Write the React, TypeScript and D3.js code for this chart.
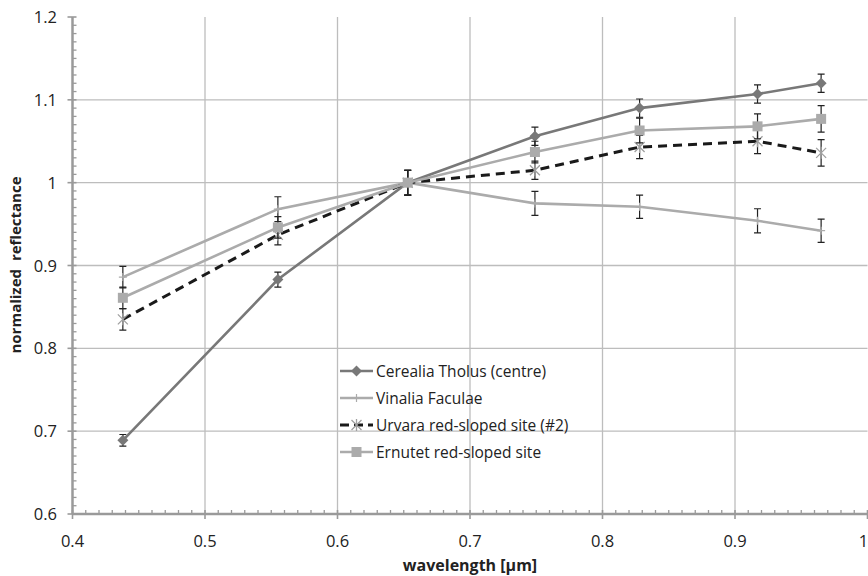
import React, { useEffect, useRef } from "react";
import * as d3 from "d3";

// wavelengths of the filters (µm)
const wavelengths = [0.438, 0.555, 0.653, 0.749, 0.828, 0.917, 0.965];

const cerealia = [0.689, 0.883, 1.0, 1.056, 1.09, 1.107, 1.12];
const cerealiaErr = [0.007, 0.009, 0.015, 0.011, 0.011, 0.011, 0.011];

const vinalia = [0.886, 0.968, 1.0, 0.975, 0.971, 0.954, 0.942];
const vinaliaErr = [0.013, 0.015, 0.015, 0.0145, 0.014, 0.0145, 0.014];

const urvara = [0.835, 0.937, 1.0, 1.015, 1.043, 1.05, 1.036];
const urvaraErr = [0.013, 0.012, 0.015, 0.011, 0.014, 0.015, 0.016];

const ernutet = [0.861, 0.946, 1.0, 1.037, 1.063, 1.068, 1.077];
const ernutetErr = [0.013, 0.013, 0.015, 0.013, 0.015, 0.015, 0.016];

const xTicks = [0.4, 0.5, 0.6, 0.7, 0.8, 0.9, 1.0];
const yTicks = [0.6, 0.7, 0.8, 0.9, 1.0, 1.1, 1.2];

const seriesNames = [
  "Cerealia Tholus (centre)",
  "Vinalia Faculae",
  "Urvara red-sloped site (#2)",
  "Ernutet red-sloped site",
];

export default function App() {
  const svgRef = useRef<SVGSVGElement | null>(null);

  useEffect(() => {
    document.body.style.margin = "0";
    const svg = d3.select(svgRef.current);
    svg.selectAll("*").remove();

    const width = 868;
    const height = 576;
    const font = "'Open Sans', 'Noto Sans', sans-serif";

    const x = d3.scaleLinear().domain([0.4, 1.0]).range([72.5, 867.5]);
    const y = d3.scaleLinear().domain([0.6, 1.2]).range([514, 17]);

    svg.attr("width", width).attr("height", height);

    //grid lines
    const grid = svg.append("g");
    grid.selectAll("line.v")
      .data(xTicks.slice(1, -1))
      .join("line")
      .attr("x1", (d) => x(d)).attr("x2", (d) => x(d))
      .attr("y1", y(0.6)).attr("y2", y(1.2))
      .attr("stroke", "#bdbdbd").attr("stroke-width", 1.3);
    grid.selectAll("line.h")
      .data(yTicks.slice(1, -1))
      .join("line")
      .attr("x1", x(0.4)).attr("x2", x(1.0))
      .attr("y1", (d) => y(d)).attr("y2", (d) => y(d))
      .attr("stroke", "#bdbdbd").attr("stroke-width", 1.3);

    //minor ticks
    const axisColor = "#9a9a9a";
    const minorX = d3.range(41, 100).map((d) => d / 100).filter((d) => Math.round(d * 100) % 10 !== 0);
    const minorY = d3.range(61, 120).map((d) => d / 100).filter((d) => Math.round(d * 100) % 10 !== 0);
    svg.append("g").selectAll("line")
      .data(minorX)
      .join("line")
      .attr("x1", (d) => x(d)).attr("x2", (d) => x(d))
      .attr("y1", y(0.6)).attr("y2", y(0.6) - 4)
      .attr("stroke", axisColor).attr("stroke-width", 1.3);
    svg.append("g").selectAll("line")
      .data(minorY)
      .join("line")
      .attr("x1", x(0.4)).attr("x2", x(0.4) + 4)
      .attr("y1", (d) => y(d)).attr("y2", (d) => y(d))
      .attr("stroke", axisColor).attr("stroke-width", 1.3);

    //major ticks
    svg.append("g").selectAll("line")
      .data(xTicks)
      .join("line")
      .attr("x1", (d) => x(d)).attr("x2", (d) => x(d))
      .attr("y1", y(0.6) - 4).attr("y2", y(0.6) + 5)
      .attr("stroke", axisColor).attr("stroke-width", 1.6);
    svg.append("g").selectAll("line")
      .data(yTicks)
      .join("line")
      .attr("x1", x(0.4) - 5).attr("x2", x(0.4) + 4)
      .attr("y1", (d) => y(d)).attr("y2", (d) => y(d))
      .attr("stroke", axisColor).attr("stroke-width", 1.6);

    //axis lines
    svg.append("line")
      .attr("x1", x(0.4)).attr("x2", x(1.0))
      .attr("y1", y(0.6)).attr("y2", y(0.6))
      .attr("stroke", axisColor).attr("stroke-width", 2.5);
    svg.append("line")
      .attr("x1", x(0.4)).attr("x2", x(0.4))
      .attr("y1", y(0.6)).attr("y2", y(1.2))
      .attr("stroke", axisColor).attr("stroke-width", 2.5);

    //tick labels
    svg.append("g").selectAll("text")
      .data(xTicks)
      .join("text")
      .attr("x", (d) => (d === 1 ? x(d) - 4 : x(d))).attr("y", 547)
      .attr("text-anchor", "middle")
      .attr("font-family", font).attr("font-size", 16.5).attr("fill", "#222")
      .text((d) => (d === 1 ? "1" : d.toFixed(1)));
    svg.append("g").selectAll("text")
      .data(yTicks)
      .join("text")
      .attr("x", 57).attr("y", (d) => y(d) + 6)
      .attr("text-anchor", "end")
      .attr("font-family", font).attr("font-size", 16.5).attr("fill", "#222")
      .text((d) => (d === 1 ? "1" : d.toFixed(1)));

    //axis titles
    svg.append("text")
      .attr("x", 470).attr("y", 571)
      .attr("text-anchor", "middle")
      .attr("font-family", font).attr("font-size", 16).attr("font-weight", "bold").attr("fill", "#222")
      .text("wavelength [µm]");
    svg.append("text")
      .attr("transform", `translate(21,${265}) rotate(-90)`)
      .attr("text-anchor", "middle")
      .attr("font-family", font).attr("font-size", 15).attr("font-weight", "bold").attr("fill", "#222")
      .attr("word-spacing", 4)
      .text("normalized reflectance");

    const series = [
      { values: cerealia, err: cerealiaErr, color: "#787878", dash: null, marker: "diamond", markerColor: "#787878" },
      { values: vinalia, err: vinaliaErr, color: "#ababab", dash: null, marker: "plus", markerColor: "#ababab" },
      { values: urvara, err: urvaraErr, color: "#1a1a1a", dash: "9,6", marker: "star", markerColor: "#a0a0a0" },
      { values: ernutet, err: ernutetErr, color: "#ababab", dash: null, marker: "square", markerColor: "#ababab" },
    ];

    const line = d3.line<number>()
      .x((_, i) => x(wavelengths[i]))
      .y((d) => y(d));

    //draws one marker at (cx, cy)
    const drawMarker = (g: any, kind: string, cx: number, cy: number, color: string) => {
      if (kind === "diamond") {
        g.append("path")
          .attr("d", `M${cx},${cy - 5.5}L${cx + 5.5},${cy}L${cx},${cy + 5.5}L${cx - 5.5},${cy}Z`)
          .attr("fill", color);
      } else if (kind === "square") {
        g.append("rect")
          .attr("x", cx - 5).attr("y", cy - 5).attr("width", 10).attr("height", 10)
          .attr("fill", color);
      } else if (kind === "plus") {
        g.append("path")
          .attr("d", `M${cx - 4},${cy}H${cx + 4}M${cx},${cy - 4}V${cy + 4}`)
          .attr("stroke", color).attr("stroke-width", 1.2);
      } else if (kind === "star") {
        g.append("path")
          .attr("d", `M${cx - 5},${cy - 5}L${cx + 5},${cy + 5}M${cx - 5},${cy + 5}L${cx + 5},${cy - 5}M${cx},${cy - 6}V${cy + 6}`)
          .attr("stroke", color).attr("stroke-width", 1.3).attr("fill", "none");
      }
    };

    series.forEach((s) => {
      const g = svg.append("g");
      //error bars
      s.values.forEach((v, i) => {
        const cx = x(wavelengths[i]);
        const y1 = y(v - s.err[i]);
        const y2 = y(v + s.err[i]);
        g.append("path")
          .attr("d", `M${cx},${y1}V${y2}M${cx - 3.5},${y1}H${cx + 3.5}M${cx - 3.5},${y2}H${cx + 3.5}`)
          .attr("stroke", "#222").attr("stroke-width", 1.2).attr("fill", "none");
      });
      g.append("path")
        .datum(s.values)
        .attr("d", line)
        .attr("fill", "none")
        .attr("stroke", s.color)
        .attr("stroke-width", s.dash ? 3 : 2.6)
        .attr("stroke-dasharray", s.dash);
      s.values.forEach((v, i) => drawMarker(g, s.marker, x(wavelengths[i]), y(v), s.markerColor));
    });

    //legend
    const legend = svg.append("g");
    series.forEach((s, i) => {
      const ly = 371 + i * 27;
      legend.append("line")
        .attr("x1", 340).attr("x2", 373)
        .attr("y1", ly).attr("y2", ly)
        .attr("stroke", s.color)
        .attr("stroke-width", s.dash ? 3 : 2.6)
        .attr("stroke-dasharray", s.dash ? "9,5" : null);
      drawMarker(legend, s.marker, 356.5, ly, s.markerColor);
      legend.append("text")
        .attr("x", 376).attr("y", ly + 5.5)
        .attr("font-family", font).attr("font-size", 15.5).attr("fill", "#222")
        .text(seriesNames[i]);
    });
  }, []);

  return (
    <div style={{ position: "absolute", left: 0, top: 0 }}>
      <svg ref={svgRef}></svg>
    </div>
  );
}
